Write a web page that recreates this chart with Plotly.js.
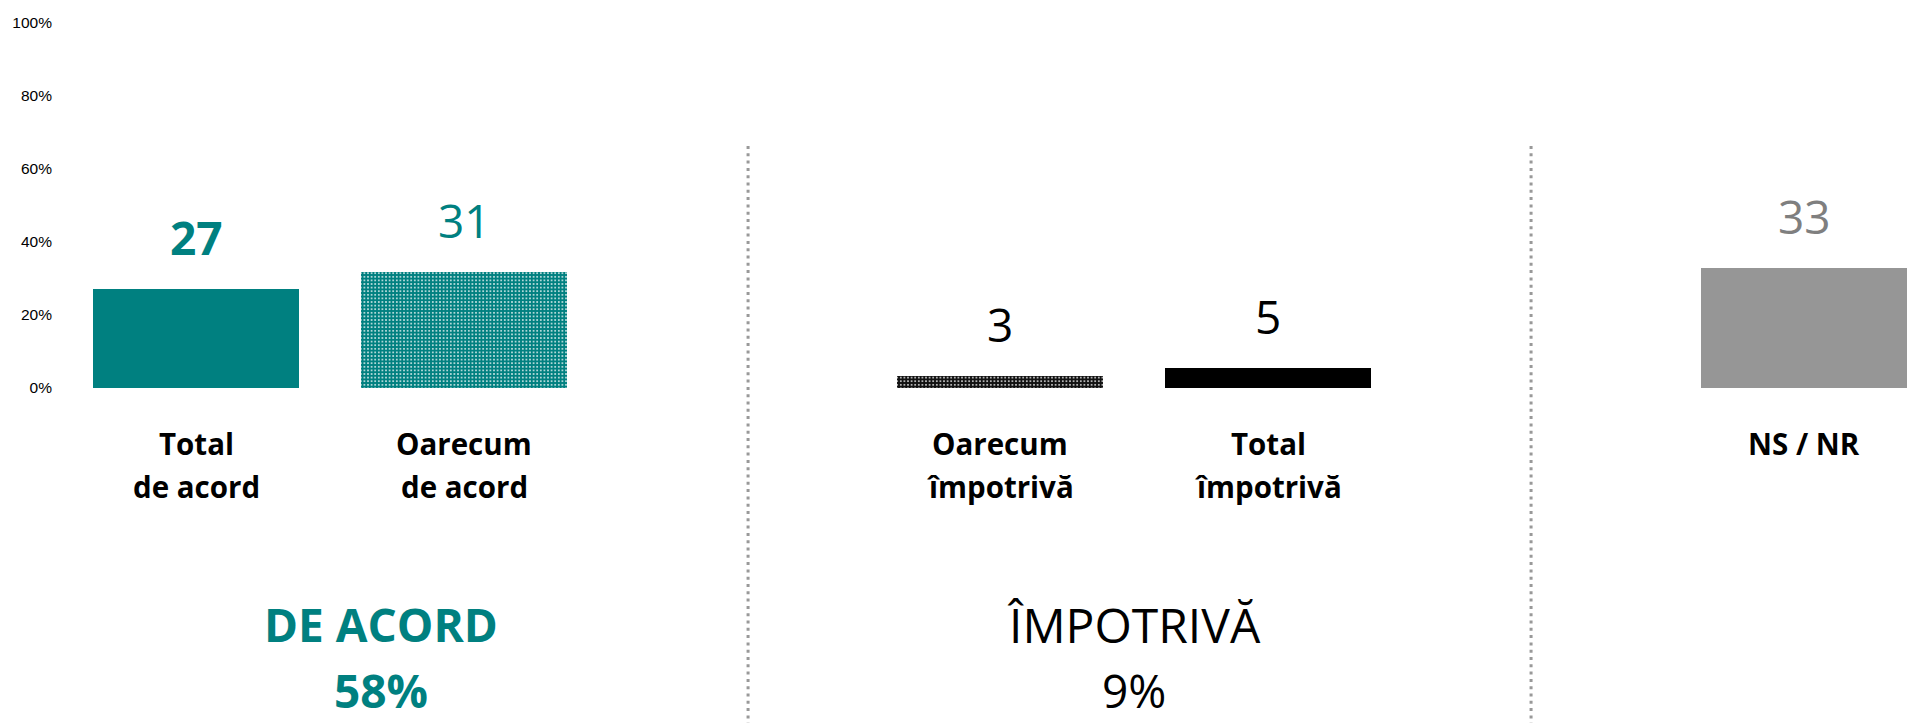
<!DOCTYPE html>
<html>
<head>
<meta charset="utf-8">
<script src="https://cdn.plot.ly/plotly-3.0.1.min.js"></script>
<style>html,body{margin:0;padding:0;background:#fff;}#chart{width:1908px;height:723px;}</style>
</head>
<body>
<div id="chart"></div>
<script>
// ---- data ----
var categories = ["Total<br>de acord", "Oarecum<br>de acord", "Oarecum<br>împotrivă", "Total<br>împotrivă", "NS / NR"];
var positions = [0, 1, 3, 4, 6];
var values = [27.2, 31.7, 3.4, 5.4, 33];
var valueLabels = ["27", "31", "3", "5", "33"];
var groupNames = ["DE ACORD", "ÎMPOTRIVĂ"];
var groupTotals = ["58%", "9%"];
var yTicks = [0, 20, 40, 60, 80, 100];
var yTickLabels = ["0%", "20%", "40%", "60%", "80%", "100%"];

// ---- styles ----
var TEAL = "#008080";
var barColors = [TEAL, TEAL, "#111111", "#000000", "#969696"];
var patShapes = ["", ".", ".", "", ""];
var patFg = ["#ffffff", "#ffffff", "#ffffff", "#ffffff", "#ffffff"];
var valueColors = [TEAL, TEAL, "#000000", "#000000", "#7f7f7f"];
var valueBold = [true, false, false, false, false];
var FONT = "'Open Sans', 'Noto Sans', sans-serif";

var trace = {
  type: "bar",
  x: positions,
  y: values,
  width: 0.772,
  marker: {
    color: barColors,
    line: {width: 0},
    pattern: {shape: patShapes, fgcolor: patFg, fgopacity: 0.85, size: 3.6, solidity: 0.22, fillmode: "overlay"}
  },
  hoverinfo: "skip"
};

var annotations = [];
// value labels above bars
for (var i = 0; i < positions.length; i++) {
  annotations.push({
    x: positions[i], y: values[i], xref: "x", yref: "y",
    yshift: 52, yanchor: "middle", xanchor: "center", showarrow: false,
    text: valueBold[i] ? "<b>" + valueLabels[i] + "</b>" : valueLabels[i],
    font: {family: FONT, size: 46, color: valueColors[i]}
  });
}
// category labels (each line separately for spacing)
var lineY = [-0.1534, -0.2712];
for (var i = 0; i < categories.length; i++) {
  var lines = categories[i].split("<br>");
  for (var j = 0; j < lines.length; j++) {
    annotations.push({
      x: positions[i], y: lineY[j], xref: "x", yref: "paper",
      yanchor: "middle", xanchor: "center", showarrow: false,
      text: "<b>" + lines[j] + "</b>",
      font: {family: FONT, size: 29.5, color: "#000000"}
    });
  }
}
// group labels
var groupX = [0.69, 3.5];
var groupColor = [TEAL, "#000000"];
var groupBold = [true, false];
var groupNameSize = [46, 48];
for (var g = 0; g < groupNames.length; g++) {
  var wrapO = groupBold[g] ? "<b>" : "", wrapC = groupBold[g] ? "</b>" : "";
  annotations.push({
    x: groupX[g], y: -0.6466, xref: "x", yref: "paper", yanchor: "middle", xanchor: "center", showarrow: false,
    text: wrapO + groupNames[g] + wrapC, font: {family: FONT, size: groupNameSize[g], color: groupColor[g]}
  });
  annotations.push({
    x: groupX[g], y: -0.8274, xref: "x", yref: "paper", yanchor: "middle", xanchor: "center", showarrow: false,
    text: wrapO + groupTotals[g] + wrapC, font: {family: FONT, size: 46, color: groupColor[g]}
  });
}

var dividerX = [0.3747, 0.7968];
var shapes = dividerX.map(function (px) {
  return {type: "line", xref: "paper", yref: "paper", x0: px, x1: px, y0: 0.663, y1: -0.92,
          line: {color: "#999999", width: 3, dash: "3px,4.3px"}};
});

var layout = {
  width: 1908, height: 723,
  margin: {l: 53, r: 0, t: 23, b: 335, pad: 0},
  paper_bgcolor: "#ffffff", plot_bgcolor: "#ffffff",
  showlegend: false,
  xaxis: {range: [-0.5336, 6.388], showticklabels: false, showgrid: false, zeroline: false, showline: false, ticks: "", fixedrange: true},
  yaxis: {range: [0, 100], tickmode: "array", tickvals: yTicks, ticktext: yTickLabels, showgrid: false, zeroline: false, showline: false, ticks: "",
          tickfont: {family: "Liberation Sans, Arial, sans-serif", size: 15.5, color: "#000000"}, fixedrange: true},
  annotations: annotations,
  shapes: shapes,
  bargap: 0
};

Plotly.newPlot("chart", [trace], layout, {staticPlot: true, displayModeBar: false});
</script>
</body>
</html>
